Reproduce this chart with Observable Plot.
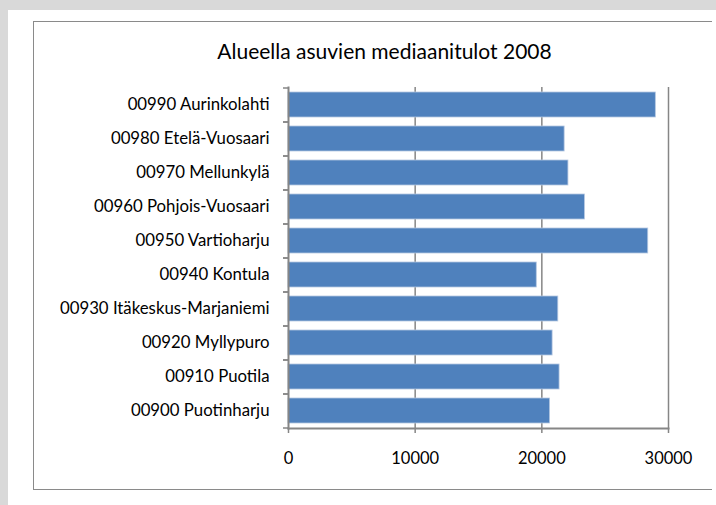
<!DOCTYPE html>
<html>
<head>
<meta charset="utf-8">
<script src="https://cdn.jsdelivr.net/npm/d3@7"></script>
<script src="https://cdn.jsdelivr.net/npm/@observablehq/plot@0.6"></script>
<style>
  html, body { margin: 0; padding: 0; }
  body { width: 716px; height: 505px; background: #d9d9d9; position: relative; overflow: hidden; font-family: Lato, "Open Sans", sans-serif; }
  #panel { position: absolute; left: 8px; top: 10px; right: 0; bottom: 0; background: #fff; }
  #frame { position: absolute; left: 33px; top: 21px; width: 679px; height: 469px; border-top: 1.5px solid #8a8a8a; border-left: 1.5px solid #8a8a8a; border-bottom: 1.5px solid #8a8a8a; box-sizing: border-box; }
  #title { position: absolute; left: 33px; width: 703px; top: 38px; text-align: center; font-size: 21px; color: #000; white-space: nowrap; }
  #chart { position: absolute; left: 0; top: 0; }
</style>
</head>
<body>
<div id="panel"></div>
<div id="frame"></div>
<div id="title">Alueella asuvien mediaanitulot 2008</div>
<div id="chart"></div>
<script>
const areas = [
  "00990 Aurinkolahti",
  "00980 Etelä-Vuosaari",
  "00970 Mellunkylä",
  "00960 Pohjois-Vuosaari",
  "00950 Vartioharju",
  "00940 Kontula",
  "00930 Itäkeskus-Marjaniemi",
  "00920 Myllypuro",
  "00910 Puotila",
  "00900 Puotinharju"
];
const incomes = [29000, 21800, 22100, 23400, 28400, 19600, 21300, 20850, 21400, 20650];
const xTicks = [0, 10000, 20000, 30000];

const data = areas.map((a, i) => ({area: a, income: incomes[i]}));
const grey = "#868686";

const chart = Plot.plot({
  width: 716,
  height: 505,
  marginLeft: 288,
  marginRight: 48,
  marginTop: 87,
  marginBottom: 77,
  style: {background: "transparent", fontFamily: "Lato, 'Open Sans', sans-serif", color: "#000", overflow: "visible"},
  x: {domain: [0, 30000], ticks: xTicks},
  y: {domain: areas, paddingInner: 0.26, paddingOuter: 0.13},
  marks: [
    Plot.gridX(xTicks.slice(1), {stroke: grey, strokeOpacity: 1, strokeWidth: 1.5}),
    Plot.barX(data, {y: "area", x: "income", fill: "#4f81bd", stroke: "#b4c7e2", strokeWidth: 0.8}),
    Plot.axisY({tickSize: 0, tickPadding: 19, fontSize: 16.8, label: null, textAnchor: "end"}),
    Plot.axisY({tickSize: 5, text: null, dy: -17, stroke: grey, strokeWidth: 1.5, label: null}),
    Plot.axisY({tickSize: 5, text: null, dy: 17, stroke: grey, strokeWidth: 1.5, label: null}),
    Plot.axisX({ticks: xTicks, tickSize: 5, tickPadding: 19, fontSize: 16.5, stroke: grey, strokeWidth: 1.5, label: null, tickFormat: d => String(d)}),
    Plot.frame({anchor: "left", stroke: grey, strokeWidth: 2}),
    Plot.frame({anchor: "bottom", stroke: grey, strokeWidth: 2})
  ]
});
document.getElementById("chart").appendChild(chart);
</script>
</body>
</html>
